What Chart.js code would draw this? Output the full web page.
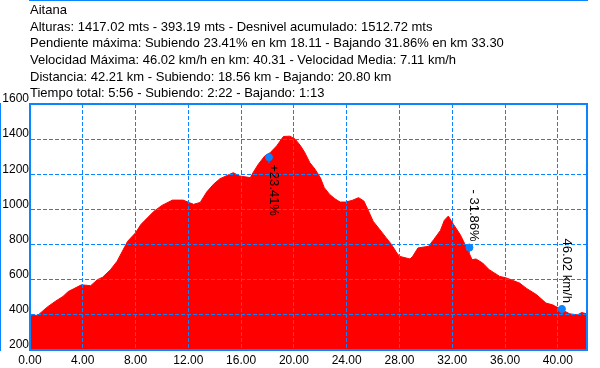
<!DOCTYPE html>
<html>
<head>
<meta charset="utf-8">
<script src="https://cdn.jsdelivr.net/npm/chart.js@4/dist/chart.umd.min.js"></script>
<style>
  html, body { margin: 0; padding: 0; background: #fff; }
  #wrap { width: 600px; height: 368px; }
</style>
</head>
<body>
<div id="wrap"><canvas id="perfil"></canvas></div>
<script>
// datos del perfil (km / metros)
const distKm = [0, 0.6, 1.3, 1.9, 2.5, 2.9, 3.3, 3.9, 4.6, 5.1, 5.5, 6.1, 6.6, 7.0, 7.4, 8.0, 8.4, 8.9, 9.4, 10.0,
  10.8, 11.6, 12.1, 12.4, 12.9, 13.4, 13.9, 14.4, 15.4, 15.9, 16.7, 16.9, 17.3, 17.8, 18.2, 18.7, 19.2, 19.7, 20.1, 20.5,
  20.8, 21.2, 21.6, 22.0, 22.3, 22.7, 23.1, 23.5, 23.9, 24.4, 24.9, 25.3, 25.6, 26.0, 26.5, 27.0, 27.4, 27.8, 28.0, 28.8,
  29.0, 29.4, 30.2, 30.6, 31.1, 31.4, 31.7, 32.1, 32.6, 33.1, 33.5, 33.8, 34.3, 34.8, 35.6, 36.1, 37.1, 37.6, 38.4, 39.1,
  39.6, 40.2, 40.9, 41.5, 41.8, 42.21];
const altura = [395, 398, 444, 476, 505, 533, 548, 571, 566, 600, 614, 657, 705, 762, 819, 867, 914, 952, 990, 1023,
  1053, 1053, 1038, 1029, 1040, 1100, 1143, 1175, 1209, 1190, 1181, 1209, 1257, 1305, 1323, 1362, 1415, 1417, 1400, 1362,
  1327, 1267, 1229, 1181, 1124, 1086, 1061, 1042, 1042, 1051, 1067, 1048, 1000, 933, 886, 838, 800, 752, 733, 718,
  733, 781, 790, 829, 880, 938, 962, 914, 857, 781, 714, 718, 695, 657, 619, 610, 581, 552, 514, 467,
  457, 433, 406, 400, 413, 406];

// marcas: pendiente max subiendo / bajando, velocidad max
const marcaKm = [18.11, 33.30, 40.31];
const marcaAlt = [1297, 783, 434];
const marcaTxt = ['+23.41%', '- 31.86%', '46.02 km/h'];
const marcaLado = ['abajo', 'arriba', 'arriba'];

const xTicks = [0, 4, 8, 12, 16, 20, 24, 28, 32, 36, 40];
const yTicks = [200, 400, 600, 800, 1000, 1200, 1400, 1600];

const cabecera = [
  'Aitana',
  'Alturas: 1417.02 mts - 393.19 mts - Desnivel acumulado: 1512.72 mts',
  'Pendiente máxima: Subiendo 23.41% en km 18.11 - Bajando 31.86% en km 33.30',
  'Velocidad Máxima: 46.02 km/h en km: 40.31 - Velocidad Media: 7.11 km/h',
  'Distancia: 42.21 km - Subiendo: 18.56 km - Bajando: 20.80 km',
  'Tiempo total: 5:56 - Subiendo: 2:22 - Bajando: 1:13'
];

const AZUL = '#0a84ff';
const FUENTE = '"Liberation Sans", Arial, sans-serif';

// marco azul + etiquetas giradas junto a las marcas
const etiquetas = {
  id: 'etiquetas',
  afterDraw(chart) {
    const ctx = chart.ctx;
    const a = chart.chartArea;
    const x = chart.scales.x, y = chart.scales.y;
    ctx.save();
    ctx.strokeStyle = AZUL;
    ctx.lineWidth = 2;
    ctx.strokeRect(a.left, a.top, a.right - a.left, a.bottom - a.top);

    ctx.font = '13px ' + FUENTE;
    ctx.fillStyle = '#000';
    ctx.textBaseline = 'alphabetic';
    marcaKm.forEach((km, i) => {
      const px = x.getPixelForValue(km);
      const py = y.getPixelForValue(marcaAlt[i]);
      // colita del marcador
      ctx.strokeStyle = AZUL;
      ctx.lineWidth = 1;
      ctx.beginPath();
      ctx.moveTo(px, py);
      ctx.lineTo(px, py + 6);
      ctx.stroke();
      ctx.save();
      ctx.translate(px, py);
      ctx.rotate(Math.PI / 2);
      if (marcaLado[i] === 'abajo') {
        ctx.textAlign = 'left';
        ctx.fillText(marcaTxt[i], 7, -1);
      } else {
        ctx.textAlign = 'right';
        ctx.fillText(marcaTxt[i], -6, -1);
      }
      ctx.restore();
    });
    ctx.restore();
  }
};

new Chart(document.getElementById('perfil'), {
  type: 'line',
  data: {
    datasets: [
      {
        data: distKm.map((d, i) => ({ x: d, y: altura[i] })),
        backgroundColor: '#ff0000',
        borderColor: '#ff0000',
        borderWidth: 1,
        fill: 'start',
        pointRadius: 0,
        tension: 0,
        order: 2
      },
      {
        data: marcaKm.map((d, i) => ({ x: d, y: marcaAlt[i] })),
        showLine: false,
        pointRadius: 3.5,
        pointBackgroundColor: AZUL,
        pointBorderColor: AZUL,
        order: 1
      }
    ]
  },
  options: {
    responsive: true,
    maintainAspectRatio: false,
    animation: false,
    events: [],
    layout: { padding: { left: 0, right: 13, top: 0, bottom: 0 } },
    plugins: {
      legend: { display: false },
      tooltip: { enabled: false },
      title: {
        display: true,
        text: cabecera,
        align: 'start',
        fullSize: false,
        color: '#000',
        font: { family: FUENTE, size: 13, weight: 'normal', lineHeight: '16.7px' },
        padding: { top: 2, bottom: 1.8 }
      }
    },
    scales: {
      x: {
        type: 'linear',
        min: 0,
        max: 42.21,
        afterBuildTicks: s => { s.ticks = xTicks.map(v => ({ value: v })); },
        afterFit: s => { s.height = 18; },
        ticks: {
          color: '#000',
          font: { family: FUENTE, size: 12 },
          padding: 3,
          maxRotation: 0,
          callback: v => v.toFixed(2)
        },
        // rejilla por encima del relleno
        grid: { color: AZUL, lineWidth: 1, drawTicks: false, z: 1 },
        border: { display: true, color: AZUL, width: 2, dash: [4, 2] }
      },
      y: {
        min: 200,
        max: 1600,
        afterBuildTicks: s => { s.ticks = yTicks.map(v => ({ value: v })); },
        afterFit: s => { s.width = 30; },
        ticks: {
          color: '#000',
          font: { family: FUENTE, size: 12 },
          padding: 1,
          labelOffset: -5,
          callback: v => String(v)
        },
        grid: { color: AZUL, lineWidth: 1, drawTicks: false, z: 1 },
        border: { display: true, color: AZUL, width: 2, dash: [4, 2] }
      }
    }
  },
  plugins: [etiquetas]
});
</script>
</body>
</html>
